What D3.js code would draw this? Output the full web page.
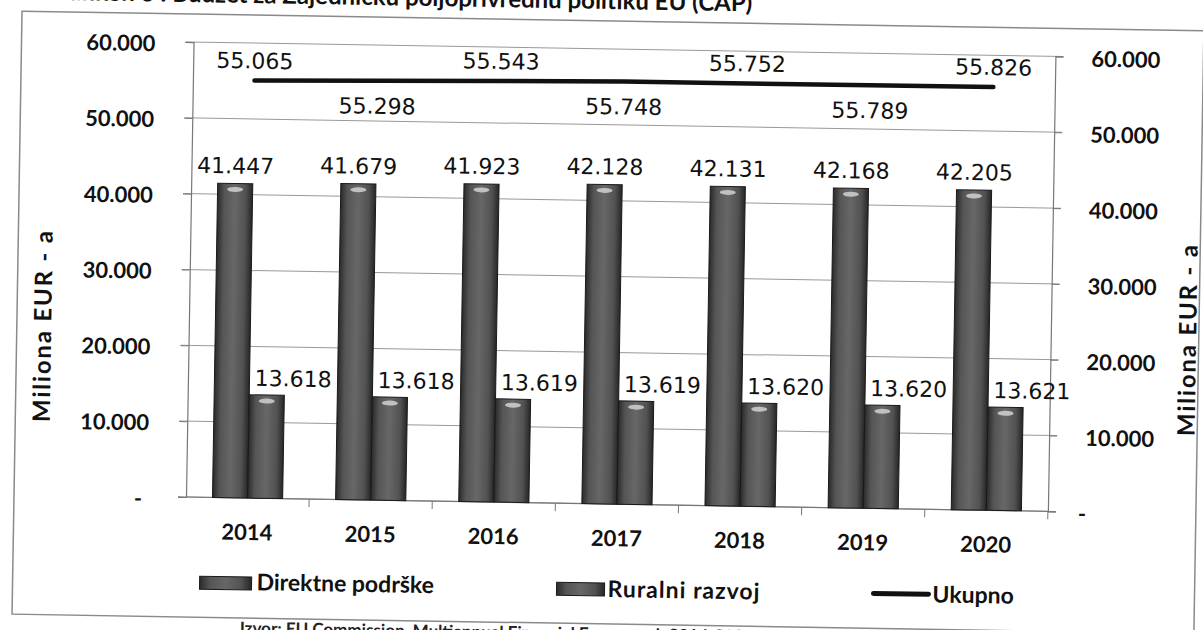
<!doctype html>
<html lang="sr">
<head>
<meta charset="utf-8">
<script src="https://d3js.org/d3.v7.min.js"></script>
<style>
  html, body { margin: 0; padding: 0; background: #fff; }
  svg { display: block; }
  .tick-lab { font-family: Lato, "Open Sans", sans-serif; font-weight: 700; font-size: 22px; fill: #111; }
  .val-lab { font-family: "DejaVu Sans", sans-serif; font-size: 22px; fill: #111; }
  .leg-lab { font-family: Lato, "Open Sans", sans-serif; font-weight: 700; font-size: 23px; fill: #111; }
  .ax-title { font-family: Lato, "Open Sans", sans-serif; font-weight: 700; font-size: 24px; letter-spacing: 1.8px; fill: #111; }
</style>
</head>
<body>
<div id="chart"></div>
<script>
// data (milioni EUR)
const years = ["2014", "2015", "2016", "2017", "2018", "2019", "2020"];
const direktne = [41447, 41679, 41923, 42128, 42131, 42168, 42205];
const ruralni = [13618, 13618, 13619, 13619, 13620, 13620, 13621];
const ukupno = [55065, 55298, 55543, 55748, 55752, 55789, 55826];
const yTicks = [0, 10000, 20000, 30000, 40000, 50000, 60000];
const seriesNames = ["Direktne podrške", "Ruralni razvoj", "Ukupno"];
const axisTitle = "Miliona EUR - a";
const chartTitle = "Grafikon 3 : Budžet za Zajedničku poljoprivrednu politiku EU (CAP)";
const sourceNote = "Izvor: EU Commission, Multiannual Financial Framework 2014-2020";

const width = 1203, height = 630;
const W = 862, H = 455;          // plot area
const tilt = 0.95;               // the scan is a little rotated

const loc = d3.formatLocale({decimal: ",", thousands: ".", grouping: [3], currency: ["", " €"]});
const fmt = loc.format(",d");
const tickFmt = d => d === 0 ? "-" : fmt(d);

const svg = d3.select("#chart").append("svg")
    .attr("width", width)
    .attr("height", height);

const defs = svg.append("defs");
const grad = defs.append("linearGradient").attr("id", "cyl").attr("x1", 0).attr("x2", 1).attr("y1", 0).attr("y2", 0);
[["0%", "#2a2a2a"], ["20%", "#555"], ["50%", "#676767"], ["80%", "#525252"], ["100%", "#262626"]]
  .forEach(s => grad.append("stop").attr("offset", s[0]).attr("stop-color", s[1]));

// whole page rotated around bottom-left corner of the plot
const page = svg.append("g").attr("transform", `translate(186,497) rotate(${tilt})`);
const g = page.append("g").attr("transform", `translate(0,${-H})`);

const y = d3.scaleLinear().domain([0, 60000]).range([H, 0]);
const xCat = d3.scaleBand().domain(years).range([0, W]);
const x0 = d3.scaleBand().domain(years).range([0, W]).paddingInner(0.43).paddingOuter(0.215);
const x1 = d3.scaleBand().domain([0, 1]).range([0, x0.bandwidth()]);

// frame + title + source
g.append("rect")
    .attr("x", -172).attr("y", -28)
    .attr("width", 1182).attr("height", H + 148)
    .attr("fill", "none").attr("stroke", "#8a8a8a").attr("stroke-width", 1.5);

g.append("text")
    .attr("x", 558).attr("y", -40)
    .attr("text-anchor", "end")
    .style("font-family", "Lato, sans-serif").style("font-weight", 700).style("font-size", "24px")
    .attr("fill", "#111")
    .text(chartTitle);

g.append("text")
    .attr("x", 56).attr("y", H + 136)
    .style("font-family", "Lato, sans-serif").style("font-weight", 700).style("font-size", "17px")
    .attr("fill", "#222")
    .text(sourceNote);

// gridlines
g.append("g").selectAll("line")
  .data(yTicks)
  .join("line")
    .attr("x1", -8).attr("x2", W + 8)
    .attr("y1", d => y(d)).attr("y2", d => y(d))
    .attr("stroke", "#999").attr("stroke-width", 1);

// left / right axes
const axL = g.append("g")
    .call(d3.axisLeft(y).tickValues(yTicks).tickFormat(tickFmt).tickSize(8).tickPadding(30));
const axR = g.append("g").attr("transform", `translate(${W},0)`)
    .call(d3.axisRight(y).tickValues(yTicks).tickFormat(tickFmt).tickSize(8).tickPadding(28));
[axL, axR].forEach(ax => {
  ax.select(".domain").attr("stroke", "#777").attr("stroke-width", 1.2);
  ax.selectAll(".tick line").attr("stroke", "#777");
  ax.selectAll(".tick text").attr("class", "tick-lab").attr("dy", "0.42em");
});
axL.selectAll(".tick text").filter(d => d === 0).attr("dx", -6);
axR.selectAll(".tick text").filter(d => d === 0).attr("dx", -6);

// category boundary ticks + year labels
const xAx = g.append("g").attr("transform", `translate(0,${H})`);
xAx.append("line").attr("x1", 0).attr("x2", W).attr("stroke", "#777").attr("stroke-width", 1.2);
xAx.selectAll(".bt")
  .data(years.slice(1).concat(["end"]))
  .join("line")
    .attr("class", "bt")
    .attr("x1", d => d === "end" ? W : xCat(d)).attr("x2", d => d === "end" ? W : xCat(d))
    .attr("y1", 0).attr("y2", 8)
    .attr("stroke", "#777");
xAx.selectAll(".yl")
  .data(years)
  .join("text")
    .attr("class", "tick-lab yl")
    .attr("x", d => xCat(d) + xCat.bandwidth() / 2)
    .attr("y", 42)
    .attr("text-anchor", "middle")
    .text(d => d);

// bars
const rows = years.map((yr, i) => ({yr, vals: [direktne[i], ruralni[i]]}));
const grp = g.append("g").selectAll("g")
  .data(rows)
  .join("g")
    .attr("transform", d => `translate(${x0(d.yr)},0)`);

grp.selectAll("rect")
  .data(d => d.vals.map((v, k) => ({k, v})))
  .join("rect")
    .attr("x", d => x1(d.k))
    .attr("y", d => y(d.v))
    .attr("width", x1.bandwidth())
    .attr("height", d => H - y(d.v))
    .attr("fill", "url(#cyl)")
    .attr("stroke", "#1a1a1a").attr("stroke-width", 1);

// little light cap at the top of each column
grp.selectAll("ellipse")
  .data(d => d.vals.map((v, k) => ({k, v})))
  .join("ellipse")
    .attr("cx", d => x1(d.k) + x1.bandwidth() / 2)
    .attr("cy", d => y(d.v) + 6)
    .attr("rx", 8).attr("ry", 2.5)
    .attr("fill", "#d8d8d8").attr("opacity", 0.8);

// bar labels
grp.append("text")
    .attr("class", "val-lab")
    .attr("x", x1(0) + x1.bandwidth() / 2)
    .attr("y", d => y(d.vals[0]) - 10)
    .attr("text-anchor", "middle")
    .text(d => fmt(d.vals[0]));

grp.append("text")
    .attr("class", "val-lab")
    .attr("x", x1(1) + 5)
    .attr("y", d => y(d.vals[1]) - 9)
    .text(d => fmt(d.vals[1]));

// Ukupno line
const cx = yr => x0(yr) + x0.bandwidth() / 2;
const line = d3.line().x((d, i) => cx(years[i])).y(d => y(d));
g.append("path")
    .datum(ukupno)
    .attr("d", line)
    .attr("fill", "none")
    .attr("stroke", "#111").attr("stroke-width", 4.5)
    .attr("stroke-linecap", "round");

g.append("g").selectAll("text")
  .data(ukupno)
  .join("text")
    .attr("class", "val-lab")
    .attr("x", (d, i) => cx(years[i]))
    .attr("y", (d, i) => i % 2 === 0 ? y(d) - 12 : y(d) + 33)
    .attr("text-anchor", "middle")
    .text(d => fmt(d));

// axis titles
g.append("text")
    .attr("transform", `translate(-146,${H - 169}) rotate(-90)`)
    .attr("text-anchor", "middle").attr("dy", "0.35em")
    .attr("class", "ax-title")
    .text(axisTitle);
g.append("text")
    .attr("transform", `translate(999,${H - 174}) rotate(-90)`)
    .attr("text-anchor", "middle").attr("dy", "0.35em")
    .attr("class", "ax-title")
    .text(axisTitle);

// legend
const leg = g.append("g").attr("transform", `translate(0,${H})`);
leg.append("rect").attr("x", 15).attr("y", 79).attr("width", 52).attr("height", 13)
    .attr("fill", "url(#cyl)").attr("stroke", "#1a1a1a");
leg.append("text").attr("class", "leg-lab").attr("x", 72).attr("y", 92).text(seriesNames[0]);
leg.append("rect").attr("x", 372).attr("y", 79).attr("width", 48).attr("height", 13)
    .attr("fill", "url(#cyl)").attr("stroke", "#1a1a1a");
leg.append("text").attr("class", "leg-lab").attr("x", 423).attr("y", 93)
    .style("letter-spacing", "1px").text(seriesNames[1]);
leg.append("line").attr("x1", 689).attr("x2", 744).attr("y1", 85).attr("y2", 85)
    .attr("stroke", "#111").attr("stroke-width", 5).attr("stroke-linecap", "round");
leg.append("text").attr("class", "leg-lab").attr("x", 748).attr("y", 93).text(seriesNames[2]);
</script>
</body>
</html>
